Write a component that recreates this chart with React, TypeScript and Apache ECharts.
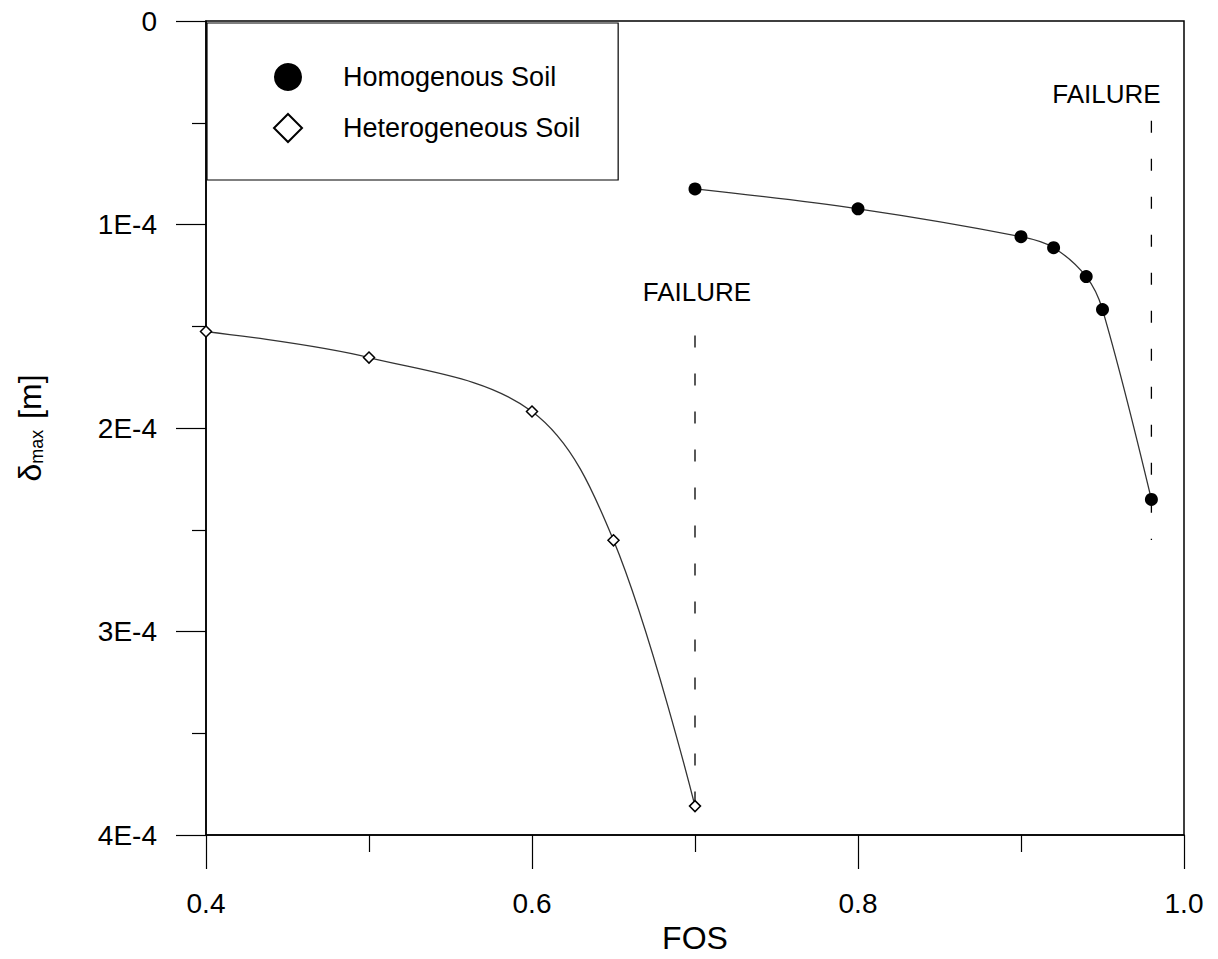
import React, { useEffect, useRef } from "react";
import * as echarts from "echarts";

// FOS values and maximum displacements (m)
const fosHomogenous = [0.7, 0.8, 0.9, 0.92, 0.94, 0.95, 0.98];
const deltaHomogenous = [0.825e-4, 0.923e-4, 1.06e-4, 1.114e-4, 1.256e-4, 1.418e-4, 2.351e-4];

const fosHeterogeneous = [0.4, 0.5, 0.6, 0.65, 0.7];
const deltaHeterogeneous = [1.526e-4, 1.654e-4, 1.919e-4, 2.552e-4, 3.858e-4];

// failure markers: FOS, top and bottom of dashed line
const failureFos = [0.7, 0.98];
const failureTop = [1.546e-4, 0.49e-4];
const failureBottom = [3.94e-4, 2.55e-4];

const seriesNames = ["Homogenous Soil", "Heterogeneous Soil"];

const FONT = "'Liberation Sans', Arial, sans-serif";

export default function App() {
  const ref = useRef<HTMLDivElement>(null);

  useEffect(() => {
    if (!ref.current) return;
    const chart = echarts.init(ref.current, null, { renderer: "svg" });

    const homoData = fosHomogenous.map((x, i) => [x, deltaHomogenous[i]]);
    const heteroData = fosHeterogeneous.map((x, i) => [x, deltaHeterogeneous[i]]);

    const failureSeries = failureFos.map((x, i) => ({
      type: "line",
      name: "failure" + i,
      data: [
        [x, failureTop[i]],
        [x, failureBottom[i]],
      ],
      symbol: "none",
      silent: true,
      lineStyle: { color: "#000", width: 1.3, type: [12, 26] },
      markPoint: {
        symbol: "rect",
        symbolSize: 0,
        data: [
          {
            coord: [x, failureTop[i]],
            label: {
              show: true,
              formatter: "FAILURE",
              color: "#000",
              fontFamily: FONT,
              fontSize: 26,
              position: "top",
              distance: i === 0 ? 31 : 14,
              offset: i === 0 ? [2, 0] : [-45, 0],
            },
          },
        ],
      },
      z: 1,
    }));

    chart.setOption({
      animation: false,
      backgroundColor: "#fff",
      textStyle: { fontFamily: FONT, color: "#000" },
      grid: {
        left: 206,
        right: 34,
        top: 21,
        bottom: 124,
        show: true,
        borderColor: "#000",
        borderWidth: 1.5,
        backgroundColor: "transparent",
      },
      legend: {
        orient: "vertical",
        left: 207,
        top: 23,
        padding: [40, 38, 37, 66],
        borderColor: "#000",
        borderWidth: 1.2,
        backgroundColor: "#fff",
        itemWidth: 28,
        itemHeight: 28,
        itemGap: 22,
        textStyle: {
          fontFamily: FONT,
          fontSize: 27,
          color: "#000",
          padding: [0, 0, 0, 36],
        },
        data: [
          {
            name: seriesNames[0],
            icon: "circle",
            itemStyle: { color: "#000", borderWidth: 0 },
          },
          {
            name: seriesNames[1],
            icon: "diamond",
            itemStyle: { color: "#fff", borderColor: "#000", borderWidth: 2 },
          },
        ],
      },
      xAxis: {
        type: "value",
        position: "bottom",
        min: 0.4,
        max: 1.0,
        interval: 0.2,
        name: "FOS",
        nameLocation: "middle",
        nameGap: 86,
        nameTextStyle: { fontFamily: FONT, fontSize: 32, color: "#000" },
        axisLine: { show: true, onZero: false, lineStyle: { color: "#000", width: 1.5 } },
        axisTick: { show: true, inside: false, length: 34, lineStyle: { color: "#000", width: 1.2 } },
        minorTick: { show: true, splitNumber: 2, length: 17, lineStyle: { color: "#000", width: 1.2 } },
        splitLine: { show: false },
        axisLabel: {
          margin: 54,
          fontFamily: FONT,
          fontSize: 28,
          color: "#000",
          formatter: (v: number) => v.toFixed(1),
        },
      },
      yAxis: {
        type: "value",
        inverse: true,
        min: 0,
        max: 4e-4,
        interval: 1e-4,
        name: "{d|δ}{s|max}{d| [m]}",
        nameLocation: "middle",
        nameGap: 160,
        nameRotate: 90,
        nameTextStyle: {
          fontFamily: FONT,
          color: "#000",
          rich: {
            d: { fontFamily: FONT, fontSize: 32, color: "#000" },
            s: { fontFamily: FONT, fontSize: 18, color: "#000", verticalAlign: "bottom", padding: [14, 2, 0, 0] },
          },
        },
        axisLine: { show: true, onZero: false, lineStyle: { color: "#000", width: 1.5 } },
        axisTick: { show: true, inside: false, length: 30, lineStyle: { color: "#000", width: 1.2 } },
        minorTick: { show: true, splitNumber: 2, length: 14, lineStyle: { color: "#000", width: 1.2 } },
        splitLine: { show: false },
        axisLabel: {
          margin: 49,
          fontFamily: FONT,
          fontSize: 28,
          color: "#000",
          formatter: (v: number) => {
            const k = Math.round(v * 1e4);
            return k === 0 ? "0" : k + "E-4";
          },
        },
      },
      series: [
        {
          type: "line",
          name: seriesNames[0],
          data: homoData,
          smooth: 0.35,
          symbol: "circle",
          symbolSize: 13,
          itemStyle: { color: "#000", borderWidth: 0 },
          lineStyle: { color: "#333", width: 1.3 },
          z: 3,
        },
        {
          type: "line",
          name: seriesNames[1],
          data: heteroData,
          smooth: 0.35,
          symbol: "diamond",
          symbolSize: 11,
          itemStyle: { color: "#fff", borderColor: "#000", borderWidth: 1.5 },
          lineStyle: { color: "#333", width: 1.3 },
          z: 3,
        },
        ...failureSeries,
      ],
    });

    return () => chart.dispose();
  }, []);

  return (
    <div
      ref={ref}
      style={{ position: "absolute", left: 0, top: 0, width: 1218, height: 959 }}
    />
  );
}
